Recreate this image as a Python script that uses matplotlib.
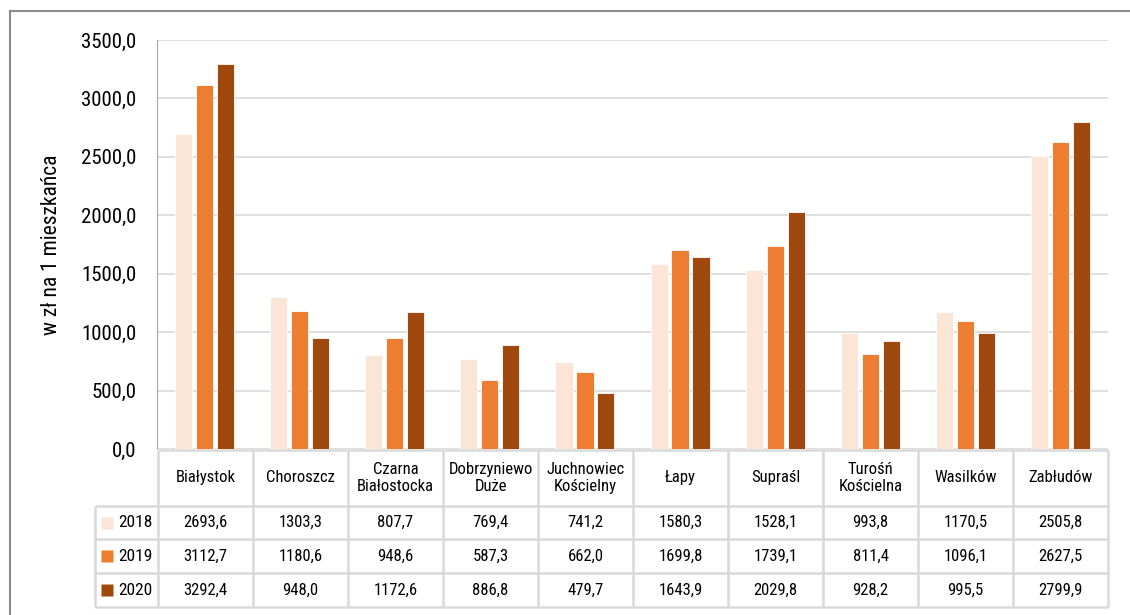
import numpy as np
import matplotlib
matplotlib.use("Agg")
import matplotlib.pyplot as plt
from matplotlib.lines import Line2D
from matplotlib import font_manager

gminy = ["Białystok", "Choroszcz", "Czarna\nBiałostocka", "Dobrzyniewo\nDuże",
         "Juchnowiec\nKościelny", "Łapy", "Supraśl", "Turośń\nKościelna",
         "Wasilków", "Zabłudów"]
years = ["2018", "2019", "2020"]
v2018 = [2693.6, 1303.3, 807.7, 769.4, 741.2, 1580.3, 1528.1, 993.8, 1170.5, 2505.8]
v2019 = [3112.7, 1180.6, 948.6, 587.3, 662.0, 1699.8, 1739.1, 811.4, 1096.1, 2627.5]
v2020 = [3292.4, 948.0, 1172.6, 886.8, 479.7, 1643.9, 2029.8, 928.2, 995.5, 2799.9]
series = [v2018, v2019, v2020]
colors = ["#FBE5D6", "#ED7D31", "#9E480E"]

# narrow face if there is one, else plain Roboto
installed = {f.name for f in font_manager.fontManager.ttflist}
narrow = [f for f in ["Roboto Condensed", "Liberation Sans Narrow"] if f in installed]
plt.rcParams["font.family"] = narrow[:1] + ["Roboto", "DejaVu Sans"]
big = 15 if narrow else 13
small = 12 if narrow else 11

W, H = 1130, 615
fig = plt.figure(figsize=(W / 100, H / 100), dpi=100)


def box(l, t, r, b):
    # pixel box -> figure fraction rect
    return [l / W, 1 - b / H, (r - l) / W, (b - t) / H]


def fmt(v):
    return f"{v:.1f}".replace(".", ",")


# bars
ax = fig.add_axes(box(157, 40, 1108, 449))
x = np.arange(len(gminy))
for i, (vals, c) in enumerate(zip(series, colors)):
    ax.bar(x + (i - 1) * 0.22, vals, width=0.18, color=c, ec="#FFFFFF", lw=0.6, zorder=2)
ax.set_xlim(-0.5, len(gminy) - 0.5)
ax.set_ylim(0, 3500)
ax.set_yticks(np.arange(0, 3501, 500))
ax.yaxis.set_major_formatter(lambda v, p: fmt(v))
ax.set_xticks([])
ax.grid(axis="y", color="#D9D9D9", lw=1.2)
ax.set_axisbelow(True)
for s in ["top", "right", "bottom"]:
    ax.spines[s].set_visible(False)
ax.spines["left"].set_color("#A6A6A6")
ax.tick_params(axis="y", length=0, pad=15, labelsize=big)
ax.set_ylabel("w zł na 1 mieszkańca", fontsize=big + 0.5)
ax.yaxis.set_label_coords(-0.1, 0.5)

# data table below the bars
tab = fig.add_axes(box(95, 450, 1108, 607))
xl = -0.5 - 63 / 95
hh = 1.65
tab.set_xlim(xl, len(gminy) - 0.5)
tab.set_ylim(hh + 3, 0)
tab.axis("off")
lc = dict(color="#D9D9D9", lw=1.8, clip_on=False)
tab.hlines(0, -0.5, len(gminy) - 0.5, **lc)
tab.hlines(hh + np.arange(4), xl, len(gminy) - 0.5, **lc)
tab.vlines(np.arange(-0.5, len(gminy)), 0, hh + 3, **lc)
tab.vlines(xl, hh, hh + 3, **lc)

for i, g in enumerate(gminy):
    tab.text(i, hh / 2, g, ha="center", va="center", fontsize=small, linespacing=1.2)
for r, (yr, vals, c) in enumerate(zip(years, series, colors)):
    yc = hh + r + 0.5
    tab.plot(xl + 0.126, yc, marker="s", ms=8.5, color=c, mec="none", clip_on=False)
    tab.text(xl + 0.24, yc, yr, ha="left", va="center", fontsize=small + 0.5)
    for i, v in enumerate(vals):
        tab.text(i, yc, fmt(v), ha="center", va="center", fontsize=small)

# outer frame (cut by the image edges)
fc = dict(color="#8C8C8C", lw=1.5, transform=fig.transFigure)
fig.add_artist(Line2D([10 / W, 10 / W], [0, 1 - 11 / H], **fc))
fig.add_artist(Line2D([10 / W, 1], [1 - 11 / H, 1 - 11 / H], **fc))

fig.savefig("out.png", dpi=100)
